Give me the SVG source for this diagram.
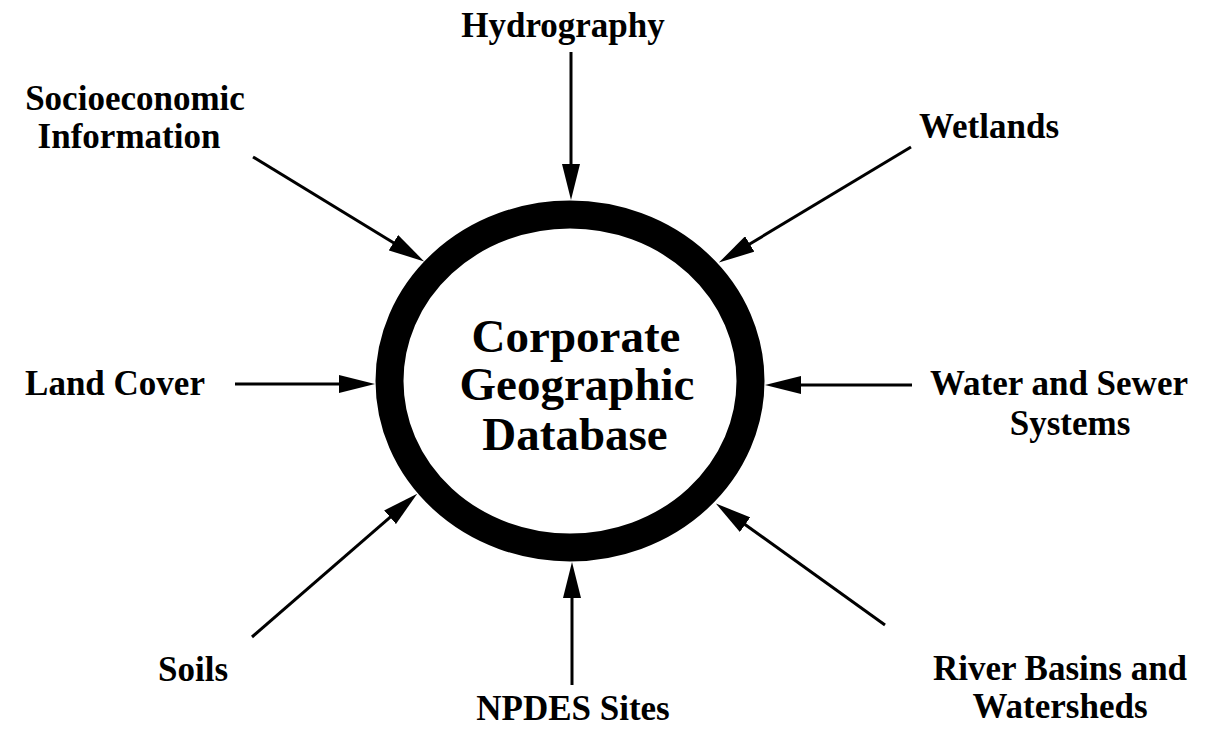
<svg xmlns="http://www.w3.org/2000/svg" width="1216" height="734" viewBox="0 0 1216 734">
  <style>
    .lbl { font-family: "Liberation Serif", "Times New Roman", serif; font-weight: bold; font-size: 35px; fill: #000; text-anchor: middle; }
    .core { font-family: "Liberation Serif", "Times New Roman", serif; font-weight: bold; font-size: 47px; fill: #000; text-anchor: middle; }
    .conn { stroke: #000; stroke-width: 3; fill: none; marker-end: url(#head); }
  </style>
  <defs>
    <marker id="head" viewBox="0 0 36 18" refX="1" refY="9" markerWidth="36" markerHeight="18" markerUnits="userSpaceOnUse" orient="auto">
      <path d="M0,0 L36,9 L0,18 z" fill="#000"/>
    </marker>
  </defs>
  <rect width="1216" height="734" fill="#fff"/>

  <!-- central database ring -->
  <g id="database">
    <ellipse cx="570" cy="381" rx="180.5" ry="166.5" fill="none" stroke="#000" stroke-width="28"/>
    <text class="core" x="576" y="352">Corporate</text>
    <text class="core" x="577" y="400">Geographic</text>
    <text class="core" x="575" y="450">Database</text>
  </g>

  <!-- source labels -->
  <g id="hydrography"><text class="lbl" x="563" y="37">Hydrography</text></g>
  <g id="socioeconomic">
    <text class="lbl" x="135" y="110">Socioeconomic</text>
    <text class="lbl" x="129" y="148">Information</text>
  </g>
  <g id="wetlands"><text class="lbl" x="989" y="138">Wetlands</text></g>
  <g id="land-cover"><text class="lbl" x="115" y="395">Land Cover</text></g>
  <g id="water-sewer">
    <text class="lbl" x="1059" y="395">Water and Sewer</text>
    <text class="lbl" x="1070" y="435">Systems</text>
  </g>
  <g id="soils"><text class="lbl" x="193" y="681">Soils</text></g>
  <g id="npdes"><text class="lbl" x="573" y="720">NPDES Sites</text></g>
  <g id="river-basins">
    <text class="lbl" x="1060" y="680">River Basins and</text>
    <text class="lbl" x="1060" y="718">Watersheds</text>
  </g>

  <!-- connectors: each ends at the base of its arrowhead -->
  <g id="connectors">
    <line class="conn" x1="571" y1="52" x2="571" y2="165"/>
    <line class="conn" x1="253" y1="157" x2="394.3" y2="243.2"/>
    <line class="conn" x1="911" y1="147" x2="748.9" y2="244.5"/>
    <line class="conn" x1="235" y1="384" x2="340" y2="384"/>
    <line class="conn" x1="912" y1="385" x2="800" y2="385"/>
    <line class="conn" x1="252" y1="637" x2="390.8" y2="516.6"/>
    <line class="conn" x1="572" y1="685" x2="572" y2="597"/>
    <line class="conn" x1="885" y1="625" x2="744.3" y2="524"/>
  </g>
</svg>
